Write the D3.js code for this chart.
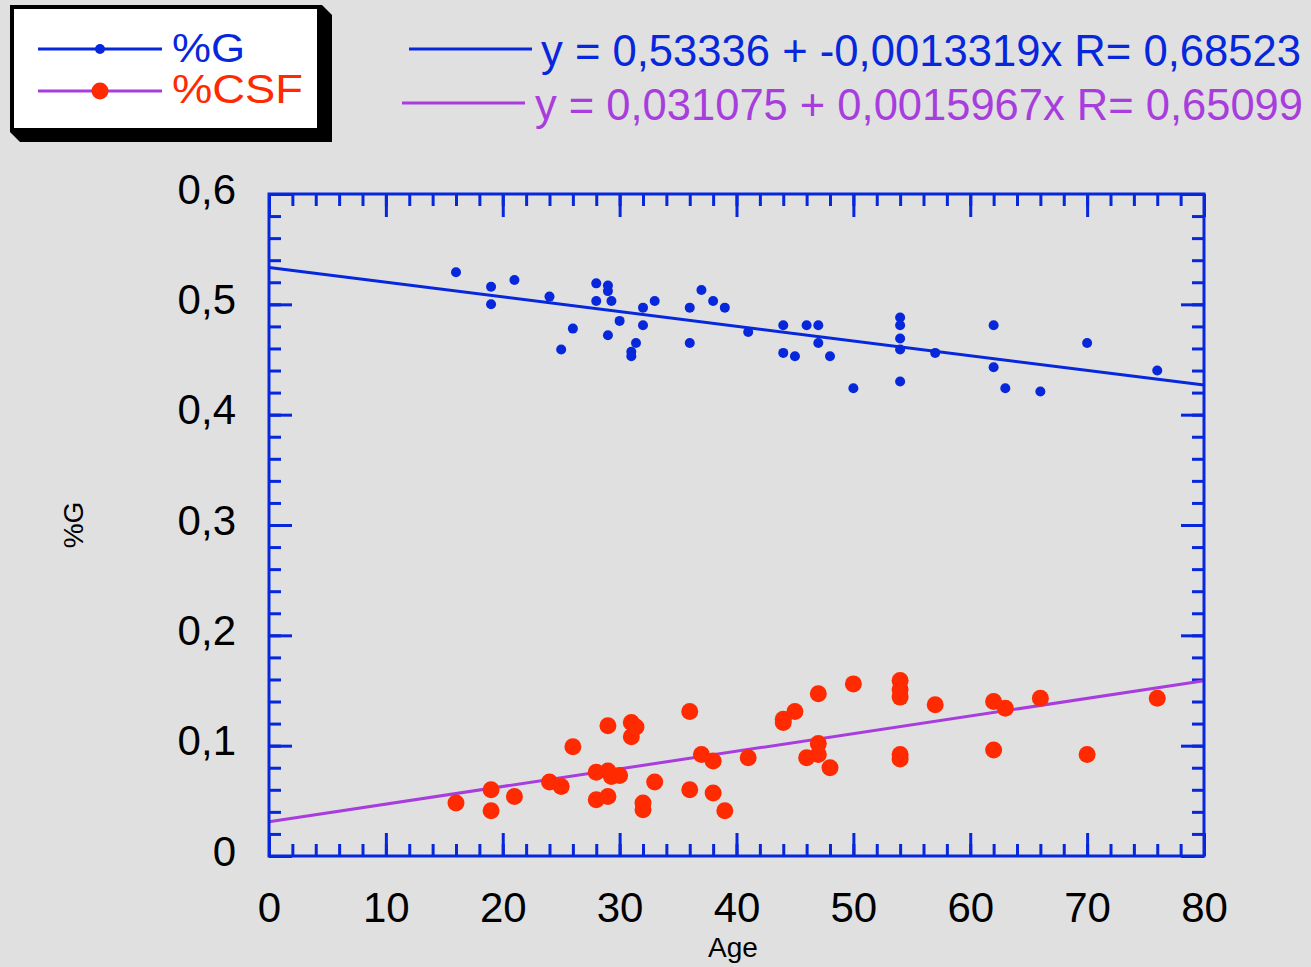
<!DOCTYPE html>
<html>
<head>
<meta charset="utf-8">
<title>%G and %CSF vs Age</title>
<script src="https://cdnjs.cloudflare.com/ajax/libs/d3/7.8.5/d3.min.js"></script>
<style>
  body { margin: 0; background: #e0e0e0; }
  svg { display: block; font-family: "Liberation Sans", Arial, Helvetica, sans-serif; }
</style>
</head>
<body>
<div id="chart"></div>
<script>
// %G (grey matter fraction) per subject
var gAge = [16, 19, 19, 21, 24, 25, 26, 28, 28, 29, 29, 29.3, 29, 30, 31, 31, 31.4, 32, 32, 33,
            36, 36, 37, 38, 39, 41, 44, 44, 45, 46, 47, 47, 48, 50, 54, 54, 54, 54, 54,
            57, 62, 62, 63, 66, 70, 76];
var gVal = [0.529, 0.516, 0.500, 0.522, 0.507, 0.459, 0.478, 0.519, 0.503, 0.517, 0.512, 0.503, 0.472, 0.485,
            0.457, 0.453, 0.465, 0.497, 0.481, 0.503, 0.497, 0.465, 0.513, 0.503, 0.497, 0.475,
            0.481, 0.456, 0.453, 0.481, 0.481, 0.465, 0.453, 0.424, 0.488, 0.481, 0.469, 0.459, 0.430,
            0.456, 0.481, 0.443, 0.424, 0.421, 0.465, 0.440];

// %CSF per subject
var csfAge = [16, 19, 19, 21, 24, 25, 26, 28, 28, 29, 29, 29.3, 30, 29, 31, 31.4, 31, 32, 32, 33,
              36, 36, 37, 38, 38, 39, 41, 44, 44, 45, 46, 47, 47, 47, 48, 50, 54, 54, 54, 54, 54,
              57, 62, 62, 63, 66, 70, 76];
var csfVal = [0.048, 0.060, 0.041, 0.054, 0.067, 0.063, 0.099, 0.076, 0.051, 0.118, 0.077, 0.072, 0.073, 0.054,
              0.121, 0.117, 0.108, 0.048, 0.042, 0.067, 0.131, 0.060, 0.092, 0.086, 0.057, 0.041,
              0.089, 0.124, 0.121, 0.131, 0.089, 0.147, 0.102, 0.092, 0.080, 0.156,
              0.159, 0.151, 0.144, 0.092, 0.088, 0.137, 0.140, 0.096, 0.134, 0.143, 0.092, 0.143];

// linear fits
var fitNames = ["%G", "%CSF"];
var fitIntercept = [0.53336, 0.031075];
var fitSlope = [-0.0013319, 0.0015967];
var fitText = ["y = 0,53336 + -0,0013319x R= 0,68523", "y = 0,031075 + 0,0015967x R= 0,65099"];

var xTicks = [0, 10, 20, 30, 40, 50, 60, 70, 80];
var yTicks = [0, 0.1, 0.2, 0.3, 0.4, 0.5, 0.6];

var blue = "#0627dc", red = "#ff2a00", purple = "#a83ddd";

var W = 1311, H = 967;
var svg = d3.select("#chart").append("svg").attr("width", W).attr("height", H);
svg.append("rect").attr("width", W).attr("height", H).attr("fill", "#e0e0e0");

var x = d3.scaleLinear().domain([0, 80]).range([269, 1204]);
var y = d3.scaleLinear().domain([0, 0.6]).range([856, 194]);

var fmt = function(d) { return String(d).replace(".", ","); };

// ticks: major + minor, inside on all four sides
function ticks(axisFn, scale, major, minor, pos, labels, pad) {
  var gMin = svg.append("g").attr("transform", pos)
    .call(axisFn(scale).tickValues(minor).tickSize(-12).tickSizeOuter(0).tickFormat(""));
  var gMaj = svg.append("g").attr("transform", pos)
    .call(axisFn(scale).tickValues(major).tickSize(-23).tickSizeOuter(0)
      .tickPadding(pad).tickFormat(labels ? fmt : ""));
  [gMin, gMaj].forEach(function(g) {
    g.select(".domain").remove();
    g.selectAll(".tick line").attr("stroke", blue).attr("stroke-width", 3);
  });
  gMaj.selectAll("text").attr("fill", "#000").attr("font-size", 42)
    .attr("font-family", "Liberation Sans, Arial, sans-serif");
  return gMaj;
}
var xMinor = d3.range(0, 81, 2), yMinor = d3.range(0, 31).map(function(i) { return i * 0.02; });
ticks(d3.axisBottom, x, xTicks, xMinor, "translate(0,856)", true, 36);
ticks(d3.axisTop, x, xTicks, xMinor, "translate(0,194)", false, 0);
var gl = ticks(d3.axisLeft, y, yTicks, yMinor, "translate(269,0)", true, 33);
gl.selectAll("text").attr("dy", "0.22em");
ticks(d3.axisRight, y, yTicks, yMinor, "translate(1204,0)", false, 0);

// regression lines
var line = d3.line().x(function(d) { return x(d[0]); }).y(function(d) { return y(d[1]); });
[blue, purple].forEach(function(c, i) {
  svg.append("path")
    .attr("d", line([0, 80].map(function(a) { return [a, fitIntercept[i] + fitSlope[i] * a]; })))
    .attr("stroke", c).attr("stroke-width", 3).attr("fill", "none");
});

// points
svg.append("g").selectAll("circle").data(gAge).join("circle")
  .attr("cx", function(d) { return x(d); })
  .attr("cy", function(d, i) { return y(gVal[i]); })
  .attr("r", 5).attr("fill", blue);
svg.append("g").selectAll("circle").data(csfAge).join("circle")
  .attr("cx", function(d) { return x(d); })
  .attr("cy", function(d, i) { return y(csfVal[i]); })
  .attr("r", 8.5).attr("fill", red);

// frame
svg.append("rect").attr("x", 269).attr("y", 194).attr("width", 935).attr("height", 662)
  .attr("fill", "none").attr("stroke", blue).attr("stroke-width", 3);

// axis titles
svg.append("text").attr("x", 733).attr("y", 957).attr("text-anchor", "middle")
  .attr("font-size", 28).text("Age");
svg.append("text").attr("transform", "translate(83,525) rotate(-90)").attr("text-anchor", "middle")
  .attr("font-size", 28).text("%G");

// legend box with 3D shadow
svg.append("polygon").attr("points", "10,5 322,5 332,15 332,142 20,142 10,132").attr("fill", "#000");
svg.append("rect").attr("x", 14).attr("y", 9).attr("width", 303).attr("height", 119).attr("fill", "#fff");
var leg = [
  { name: fitNames[0], line: blue, dot: blue, r: 5, y: 49, text: blue, base: 62, len: 73 },
  { name: fitNames[1], line: purple, dot: red, r: 8.5, y: 91, text: red, base: 103, len: 131 }
];
leg.forEach(function(d) {
  svg.append("line").attr("x1", 38).attr("x2", 162).attr("y1", d.y).attr("y2", d.y)
    .attr("stroke", d.line).attr("stroke-width", 3);
  svg.append("circle").attr("cx", 100).attr("cy", d.y).attr("r", d.r).attr("fill", d.dot);
  svg.append("text").attr("x", 172).attr("y", d.base).attr("font-size", 41)
    .attr("fill", d.text).attr("textLength", d.len).attr("lengthAdjust", "spacingAndGlyphs")
    .text(d.name);
});

// fit equations
var eq = [
  { c: blue, x1: 409, x2: 532, y: 49, tx: 541, base: 66, len: 760 },
  { c: purple, x1: 402, x2: 525, y: 103, tx: 535, base: 120, len: 768 }
];
eq.forEach(function(d, i) {
  svg.append("line").attr("x1", d.x1).attr("x2", d.x2).attr("y1", d.y).attr("y2", d.y)
    .attr("stroke", d.c).attr("stroke-width", 3);
  svg.append("text").attr("x", d.tx).attr("y", d.base).attr("font-size", 43.5)
    .attr("fill", d.c).attr("textLength", d.len).attr("lengthAdjust", "spacingAndGlyphs")
    .text(fitText[i]);
});
</script>
</body>
</html>
